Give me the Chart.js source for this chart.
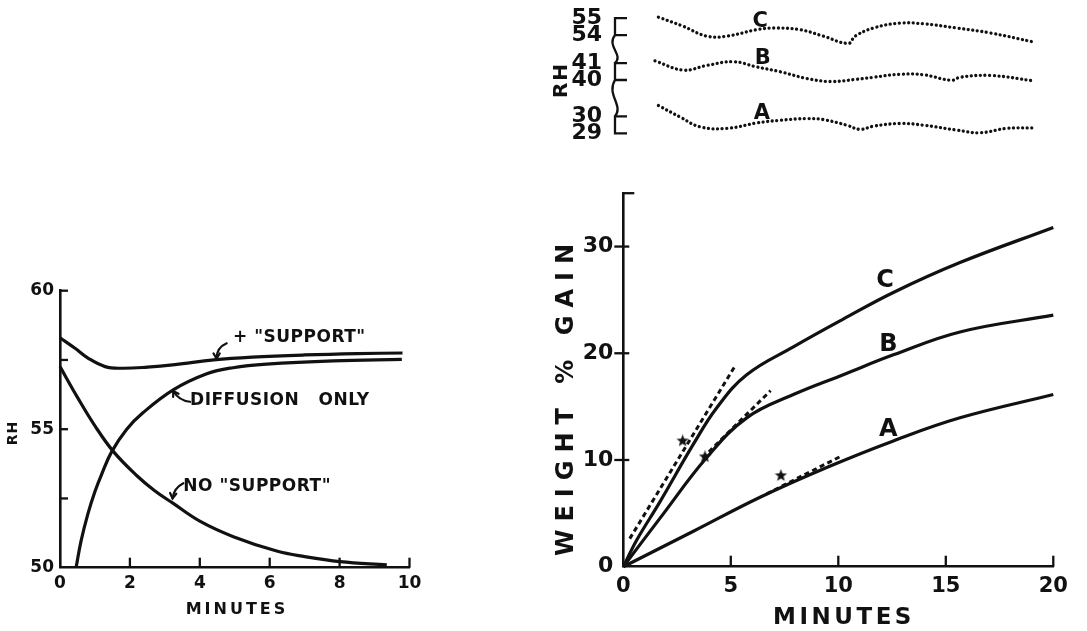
<!DOCTYPE html>
<html>
<head>
<meta charset="utf-8">
<script src="https://cdn.jsdelivr.net/npm/chart.js@4.4.1/dist/chart.umd.min.js"></script>
<style>
  html, body { margin: 0; padding: 0; background: #fff; }
  body { width: 1087px; height: 631px; position: relative; overflow: hidden; }
  canvas { position: absolute; }
</style>
</head>
<body>
<canvas id="rhChart" width="440" height="381" style="left:0;top:250px"></canvas>
<canvas id="topChart" width="547" height="160" style="left:540px;top:0"></canvas>
<canvas id="gainChart" width="547" height="461" style="left:540px;top:170px"></canvas>
<script>
// ---- left panel : RH in the cell, 0-10 minutes
const supportMin = [0, 0.43, 0.81, 1.29, 1.76, 2.5, 3.29, 4.4, 5.5, 7, 8.5, 9.8];
const supportRH = [58.3, 57.92, 57.56, 57.26, 57.2, 57.24, 57.33, 57.5, 57.6, 57.68, 57.73, 57.75];
const diffusionMin = [0.46, 0.6, 0.8, 1.0, 1.2, 1.48, 1.91, 2.38, 3.24, 4.2, 4.95, 5.91, 7.82, 9.78];
const diffusionRH = [50, 50.95, 51.95, 52.75, 53.4, 54.19, 55.0, 55.6, 56.42, 57.0, 57.22, 57.35, 57.47, 57.52];
const noSupportMin = [0, 0.5, 1, 1.53, 2.2, 2.7, 3.24, 4, 4.96, 6.2, 7, 8.01, 9.35];
const noSupportRH = [57.26, 56.15, 55.12, 54.19, 53.32, 52.79, 52.32, 51.68, 51.12, 50.6, 50.4, 50.22, 50.1];
const leftMinTicks = [0, 2, 4, 6, 8, 10];
const leftRHTicks = [50, 55, 60];

// ---- top right panel : RH traces (broken axis)
const topMinC = [1.63, 2.79, 3.88, 4.81, 6.2, 6.98, 8.22, 9.3, 10.47, 10.78, 11.63, 12.87, 13.95, 15.5, 17.06, 19.07];
const topRHC = [55.06, 54.52, 53.94, 53.94, 54.32, 54.42, 54.32, 53.94, 53.51, 53.94, 54.42, 54.71, 54.67, 54.42, 54.13, 53.6];
const topMinB = [1.47, 2.79, 3.88, 5.12, 6.2, 7.29, 8.53, 9.61, 10.86, 11.63, 12.87, 13.95, 15.27, 15.66, 17.06, 19.07];
const topRHB = [41.13, 40.58, 40.86, 41.08, 40.77, 40.49, 40.09, 39.91, 40.04, 40.16, 40.34, 40.31, 39.98, 40.16, 40.27, 39.95];
const topMinA = [1.63, 2.64, 3.57, 4.81, 6.2, 7.29, 8.53, 9.3, 10.39, 11.01, 11.63, 12.87, 13.95, 15.5, 16.59, 17.83, 19.07];
const topRHA = [30.64, 29.96, 29.38, 29.29, 29.61, 29.77, 29.87, 29.81, 29.48, 29.23, 29.42, 29.58, 29.48, 29.19, 29.03, 29.29, 29.32];
const topTickRH = [29, 30, 40, 41, 54, 55];
const topTickSeg = ['A', 'A', 'B', 'B', 'C', 'C'];
// each piece of the broken axis: [RH at its foot, where that foot sits on the plot]
const segBase = { A: [29, 0], B: [40, 3.15], C: [54, 5.8] };

// ---- bottom right panel : weight % gain
const gainMinC = [0, 0.62, 1.71, 3.26, 4.34, 5.74, 7.91, 10.23, 12.56, 15.66, 20];
const gainC = [0, 2.48, 6.1, 11.48, 14.88, 17.99, 20.6, 23.2, 25.7, 28.5, 31.79];
const gainMinB = [0, 1.71, 3.88, 5.74, 7.91, 10.23, 12.56, 15.66, 20];
const gainB = [0, 4.55, 10.23, 13.95, 16.13, 17.99, 19.85, 22.0, 23.57];
const gainMinA = [0, 3.26, 6.36, 9.46, 12.56, 15.66, 20];
const gainA = [0, 3.32, 6.51, 9.3, 11.79, 13.95, 16.13];
const tangentMinC = [0.3, 5.23], tangentC = [2.63, 18.92];
const tangentMinB = [3.7, 6.85], tangentB = [10.2, 16.5];
const tangentMinA = [6.67, 10.16], tangentA = [6.83, 10.39];
const starMin = [2.76, 3.80, 7.33];
const starGain = [11.79, 10.3, 8.53];
const gainMinTicks = [0, 5, 10, 15, 20];
const gainTicks = [0, 10, 20, 30];

const INK = '#111';
const FONT = "'DejaVu Sans', sans-serif";
const B = 'bold ';

function pts(xs, ys) { return xs.map((x, i) => ({ x: x, y: ys[i] })); }
function toV(seg, rh) { return rh - segBase[seg][0] + segBase[seg][1]; }

function curve(xs, ys, extra) {
  return Object.assign({
    data: pts(xs, ys), borderColor: INK, borderWidth: 3.2, pointRadius: 0,
    tension: 0.4, fill: false, clip: false
  }, extra || {});
}

function starImage(size) {
  const c = document.createElement('canvas');
  c.width = c.height = size;
  const g = c.getContext('2d');
  g.fillStyle = INK;
  g.beginPath();
  for (let i = 0; i < 10; i++) {
    const r = i % 2 ? size * 0.21 : size * 0.5;
    const a = -Math.PI / 2 + i * Math.PI / 5;
    g.lineTo(size / 2 + r * Math.cos(a), size / 2 + r * Math.sin(a));
  }
  g.closePath();
  g.fill();
  return c;
}

// tick marks drawn by hand so they can sit inside or across the axis
const axisMarks = {
  id: 'axisMarks',
  afterDraw(chart, args, opts) {
    if (!opts.marks) return;
    const ctx = chart.ctx, area = chart.chartArea;
    ctx.save();
    ctx.strokeStyle = INK;
    ctx.lineWidth = 2.3;
    opts.marks.forEach(m => {
      const sc = chart.scales[m.axis];
      m.values.forEach(v => {
        const p = sc.getPixelForValue(v);
        ctx.beginPath();
        if (m.axis === 'x') {
          ctx.moveTo(p, area.bottom + (m.down || 0));
          ctx.lineTo(p, area.bottom - (m.up || 0));
        } else {
          ctx.moveTo(area.left - (m.left || 0), p);
          ctx.lineTo(area.left + (m.right || 0), p);
        }
        ctx.stroke();
      });
    });
    ctx.restore();
  }
};

// top panel: axis pieces joined by break squiggles
const brokenAxis = {
  id: 'brokenAxis',
  afterDraw(chart, args, opts) {
    if (!opts.pieces) return;
    const ctx = chart.ctx, sy = chart.scales.y, x0 = chart.chartArea.left;
    ctx.save();
    ctx.strokeStyle = INK;
    ctx.lineWidth = 2.3;
    opts.pieces.forEach((pc, i) => {
      const yLo = sy.getPixelForValue(pc[0]), yHi = sy.getPixelForValue(pc[1]);
      ctx.beginPath();
      ctx.moveTo(x0 + 12, yHi); ctx.lineTo(x0, yHi); ctx.lineTo(x0, yLo); ctx.lineTo(x0 + 12, yLo);
      ctx.stroke();
      const next = opts.pieces[i + 1];
      if (next) {
        const yN = sy.getPixelForValue(next[0]);
        const gap = yHi - yN;
        ctx.beginPath();
        ctx.moveTo(x0, yHi);
        ctx.bezierCurveTo(x0 + 9, yHi - gap * 0.3, x0 - 9, yHi - gap * 0.6, x0, yN);
        ctx.stroke();
      }
    });
    ctx.restore();
  }
};

// labels placed in data units, or in canvas pixels for axis titles
const textMarks = {
  id: 'textMarks',
  afterDraw(chart, args, opts) {
    if (!opts.items) return;
    const ctx = chart.ctx;
    opts.items.forEach(t => {
      ctx.save();
      ctx.font = t.font;
      ctx.fillStyle = INK;
      ctx.letterSpacing = (t.spacing || 0) + 'px';
      ctx.textAlign = t.align || 'center';
      ctx.textBaseline = 'middle';
      let x, y;
      if (t.px) { x = t.px[0]; y = t.px[1]; }
      else { x = chart.scales.x.getPixelForValue(t.x); y = chart.scales.y.getPixelForValue(t.y); }
      ctx.translate(x, y);
      if (t.rotate) ctx.rotate(t.rotate);
      ctx.fillText(t.text, 0, 0);
      ctx.restore();
    });
  }
};

// small hooked arrows pointing at the curves
const leaderArrows = {
  id: 'leaderArrows',
  afterDraw(chart, args, opts) {
    if (!opts.items) return;
    const ctx = chart.ctx, sx = chart.scales.x, sy = chart.scales.y;
    ctx.save();
    ctx.strokeStyle = INK;
    ctx.lineWidth = 2.2;
    ctx.lineCap = 'round';
    opts.items.forEach(a => {
      const x1 = sx.getPixelForValue(a.from[0]), y1 = sy.getPixelForValue(a.from[1]);
      const x2 = sx.getPixelForValue(a.to[0]), y2 = sy.getPixelForValue(a.to[1]);
      const dx = x2 - x1, dy = y2 - y1, len = Math.hypot(dx, dy);
      const cx = (x1 + x2) / 2 - dy / len * a.bend, cy = (y1 + y2) / 2 + dx / len * a.bend;
      ctx.beginPath(); ctx.moveTo(x1, y1); ctx.quadraticCurveTo(cx, cy, x2, y2); ctx.stroke();
      const ang = Math.atan2(y2 - cy, x2 - cx);
      ctx.beginPath();
      ctx.moveTo(x2 - 6 * Math.cos(ang - 0.55), y2 - 6 * Math.sin(ang - 0.55));
      ctx.lineTo(x2, y2);
      ctx.lineTo(x2 - 6 * Math.cos(ang + 0.55), y2 - 6 * Math.sin(ang + 0.55));
      ctx.stroke();
    });
    ctx.restore();
  }
};

const plain = { legend: { display: false }, tooltip: { enabled: false } };
const border = { display: true, color: INK, width: 2.6 };
const noGrid = { display: true, drawOnChartArea: false, drawTicks: false };

// ---------------- left chart
new Chart(document.getElementById('rhChart'), {
  type: 'line',
  data: { datasets: [
    curve(supportMin, supportRH),
    curve(diffusionMin, diffusionRH),
    curve(noSupportMin, noSupportRH)
  ] },
  options: {
    responsive: false, animation: false, events: [],
    layout: { autoPadding: false, padding: { left: 0, top: 40.7, right: 30.5, bottom: 0 } },
    plugins: Object.assign({}, plain, {
      axisMarks: { marks: [
        { axis: 'x', values: [2, 4, 6, 8, 10], up: 10 },
        { axis: 'y', values: [52.5, 55, 57.5, 60], right: 8 }
      ] },
      leaderArrows: { items: [
        { from: [4.77, 58.10], to: [4.48, 57.55], bend: 6 },
        { from: [3.72, 55.99], to: [3.24, 56.38], bend: -5 },
        { from: [3.53, 53.05], to: [3.22, 52.5], bend: 5 }
      ] },
      textMarks: { items: [
        { text: '+ "SUPPORT"', x: 4.95, y: 58.29, align: 'left', font: B + '17px ' + FONT, spacing: 0.5 },
        { text: 'DIFFUSION   ONLY', x: 3.72, y: 56.03, align: 'left', font: B + '17px ' + FONT, spacing: 0.5 },
        { text: 'NO "SUPPORT"', x: 3.53, y: 52.92, align: 'left', font: B + '17px ' + FONT, spacing: 0.5 },
        { text: 'MINUTES', px: [237, 360], font: B + '16px ' + FONT, spacing: 3 },
        { text: 'RH', px: [13, 183], font: B + '14px ' + FONT, spacing: 1, rotate: -Math.PI / 2 }
      ] }
    }),
    scales: {
      x: {
        type: 'linear', min: 0, max: 10, grid: noGrid, border: border,
        afterBuildTicks: s => { s.ticks = leftMinTicks.map(v => ({ value: v })); },
        afterFit: s => { s.height = 63.3; },
        ticks: { color: INK, font: { family: FONT, size: 17, weight: 'bold' }, padding: 6, maxRotation: 0, autoSkip: false }
      },
      y: {
        min: 50, max: 60, grid: noGrid, border: border,
        afterBuildTicks: s => { s.ticks = leftRHTicks.map(v => ({ value: v })); },
        afterFit: s => { s.width = 60; },
        ticks: { color: INK, font: { family: FONT, size: 17, weight: 'bold' }, padding: 6, autoSkip: false }
      }
    }
  },
  plugins: [axisMarks, leaderArrows, textMarks]
});

// ---------------- top right chart
const dotted = { borderWidth: 3.3, borderDash: [0.01, 4.6], borderCapStyle: 'round', tension: 0.4 };
new Chart(document.getElementById('topChart'), {
  type: 'line',
  data: { datasets: [
    curve(topMinC, topRHC.map(r => toV('C', r)), dotted),
    curve(topMinB, topRHB.map(r => toV('B', r)), dotted),
    curve(topMinA, topRHA.map(r => toV('A', r)), dotted)
  ] },
  options: {
    responsive: false, animation: false, events: [],
    layout: { autoPadding: false, padding: { left: 0, top: 15, right: 33.7, bottom: 26.7 } },
    plugins: Object.assign({}, plain, {
      brokenAxis: { pieces: ['A', 'B', 'C'].map(k => [toV(k, topTickRH[topTickSeg.indexOf(k)]), toV(k, topTickRH[topTickSeg.lastIndexOf(k)])]) },
      textMarks: { items: [
        { text: 'C', x: 6.36, y: toV('C', 54.83), font: B + '21px ' + FONT },
        { text: 'B', x: 6.48, y: toV('B', 41.25), font: B + '21px ' + FONT },
        { text: 'A', x: 6.44, y: toV('A', 30.15), font: B + '21px ' + FONT },
        { text: 'RH', px: [22, 80], font: B + '20px ' + FONT, spacing: 2, rotate: -Math.PI / 2 }
      ] }
    }),
    scales: {
      x: { type: 'linear', min: -0.39, max: 20, display: false },
      y: {
        min: 0, max: 6.8, grid: { display: false }, border: { display: false },
        afterBuildTicks: s => { s.ticks = topTickRH.map((r, i) => ({ value: toV(topTickSeg[i], r) })); },
        afterFit: s => { s.width = 75; },
        ticks: {
          color: INK, font: { family: FONT, size: 22, weight: 'bold' }, padding: 5, autoSkip: false,
          callback: (v, i) => String(topTickRH[i])
        }
      }
    }
  },
  plugins: [brokenAxis, textMarks]
});

// ---------------- bottom right chart
const dashed = { borderWidth: 3, borderDash: [5, 3.5], tension: 0 };
new Chart(document.getElementById('gainChart'), {
  type: 'line',
  data: { datasets: [
    curve(gainMinC, gainC),
    curve(gainMinB, gainB),
    curve(gainMinA, gainA),
    curve(tangentMinC, tangentC, dashed),
    curve(tangentMinB, tangentB, dashed),
    curve(tangentMinA, tangentA, dashed),
    { data: pts(starMin, starGain), showLine: false, pointStyle: starImage(13), pointRadius: 6 }
  ] },
  options: {
    responsive: false, animation: false, events: [],
    layout: { autoPadding: false, padding: { left: 0, top: 20, right: 33.7, bottom: 0 } },
    plugins: Object.assign({}, plain, {
      axisMarks: { marks: [
        { axis: 'x', values: [5, 10, 15, 20], up: 11 },
        { axis: 'y', values: [10, 20, 30], left: 9, right: 6 },
        { axis: 'y', values: [35], right: 11 }
      ] },
      textMarks: { items: [
        { text: 'C', x: 12.17, y: 26.83, font: B + '24px ' + FONT },
        { text: 'B', x: 12.33, y: 20.78, font: B + '24px ' + FONT },
        { text: 'A', x: 12.33, y: 12.87, font: B + '24px ' + FONT },
        { text: 'MINUTES', px: [304, 448], font: B + '23px ' + FONT, spacing: 3.5 },
        { text: 'WEIGHT % GAIN', px: [27, 226], font: B + '24px ' + FONT, spacing: 8, rotate: -Math.PI / 2 }
      ] }
    }),
    scales: {
      x: {
        type: 'linear', min: 0, max: 20, grid: noGrid, border: border,
        afterBuildTicks: s => { s.ticks = gainMinTicks.map(v => ({ value: v })); },
        afterFit: s => { s.height = 64.3; },
        ticks: { color: INK, font: { family: FONT, size: 21, weight: 'bold' }, padding: 7, maxRotation: 0, autoSkip: false }
      },
      y: {
        min: 0, max: 35, grid: noGrid, border: border,
        afterBuildTicks: s => { s.ticks = gainTicks.map(v => ({ value: v })); },
        afterFit: s => { s.width = 83.3; },
        ticks: { color: INK, font: { family: FONT, size: 22, weight: 'bold' }, padding: 10, autoSkip: false }
      }
    }
  },
  plugins: [axisMarks, textMarks]
});
</script>
</body>
</html>
